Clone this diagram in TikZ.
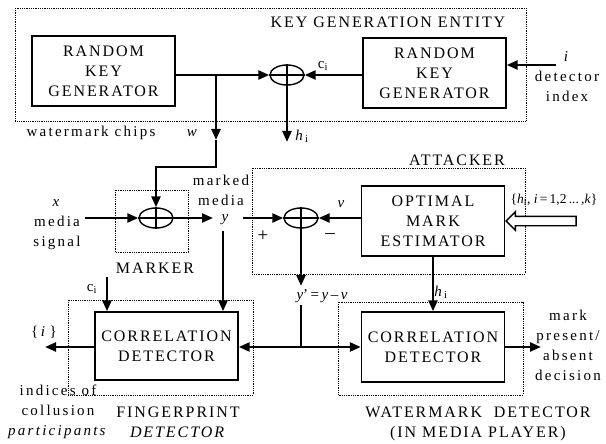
\documentclass[tikz,border=0pt]{standalone}
\usepackage{fontspec}
\setmainfont{Liberation Serif}
\newfontfamily\spacedfont[LetterSpace=12]{Liberation Serif}
\newfontfamily\labelfont[LetterSpace=15]{Liberation Serif}
\usepackage{tikz}
\usetikzlibrary{arrows.meta,positioning,shapes.geometric,shapes.arrows}
\tikzset{
  block/.style={rectangle,draw=black,line width=1.4pt,align=center,minimum width=143pt,minimum height=70pt,inner sep=0pt,font=\spacedfont\fontsize{16}{20}\selectfont},
  region/.style={draw=black,densely dotted,line width=0.8pt},
  adder/.style={ellipse,draw=black,line width=1.4pt,minimum width=34pt,minimum height=20pt,inner sep=0pt},
  edge/.style={-{Triangle[length=11pt,width=9pt]},line width=2.4pt,draw=black},
  wire/.style={line width=2.4pt,draw=black},
  txt/.style={align=center,inner sep=0pt,font=\labelfont\fontsize{15}{20}\selectfont},
  caps/.style={align=center,inner sep=0pt,font=\spacedfont\fontsize{16}{20}\selectfont},
  sign/.style={inner sep=0pt,font=\fontsize{19}{20}\selectfont},
  hollow/.style={single arrow,draw=black,line width=1.4pt,fill=white,minimum height=70pt,minimum width=17pt,inner sep=4pt,single arrow head extend=4.5pt,single arrow head indent=0pt,shape border rotate=180,anchor=tip}
}
\newcommand{\cross}[1]{\draw[line width=1.2pt] (#1.north) -- (#1.south) (#1.west) -- (#1.east);}
\newcommand{\var}[1]{\textit{#1}}
\begin{document}
\begin{tikzpicture}[x=1pt,y=-1pt]
\useasboundingbox (0,0) rectangle (606,444);
% regions
\draw[region] (15,8) rectangle (526,121);
\draw[region] (115,190) rectangle (188,252);
\draw[region] (252,168) rectangle (525,274);
\draw[region] (68,300) rectangle (253,395);
\draw[region] (338,302) rectangle (523,395);
\node[caps] (kgelbl) at (388,22) {KEY GENERATION ENTITY};
\node[caps] (mklbl) at (155,268) {MARKER};
\node[caps] (atklbl) at (457,160) {ATTACKER};
\node[caps] (fplbl) at (178,422) {FINGERPRINT\\\var{DETECTOR}};
\node[caps] (wmlbl) at (478,424) {WATERMARK\ \ DETECTOR\\(IN MEDIA PLAYER)};
% blocks
\node[block] (rkg1) at (103.5,71) {RANDOM\\KEY\\GENERATOR};
\node[block] (rkg2) at (434.5,73) {RANDOM\\KEY\\GENERATOR};
\node[block] (est) at (433,221) {OPTIMAL\\MARK\\ESTIMATOR};
\node[block,minimum height=68pt] (fpd) at (166.5,346) {CORRELATION\\DETECTOR};
\node[block] (wmd) at (433,347) {CORRELATION\\DETECTOR};
% adders
\node[adder] (add1) at (287,75) {};
\node[adder] (add2) at (156,218) {};
\node[adder] (add3) at (301,218) {};
\cross{add1}
\cross{add2}
\cross{add3}
% free ends
\coordinate (wsplit) at (216,75);
\coordinate (wtip) at (216,140);
\coordinate (wbend) at (216,167);
\coordinate (htip) at (287,142);
\coordinate (iin) at (556,65);
\coordinate (xin) at (85,218);
\coordinate (ytip) at (213,218);
\coordinate (ydown) at (223,231);
\coordinate (yout) at (243,218);
\coordinate (yptip) at (301,286);
\coordinate (ypstart) at (301,305);
\coordinate (junct) at (301,347);
\coordinate (cin) at (107,277);
\coordinate (iout) at (45,347);
\coordinate (decout) at (541,347);
% connectors
\draw[edge] (rkg1.east |- add1) -- (add1.west);
\draw[edge] (wsplit) -- (wtip);
\draw[edge] (wtip) -- (wbend) -| (add2.north);
\draw[edge] (add1.south) -- (htip);
\draw[edge] (rkg2.west |- add1) -- (add1.east);
\draw[edge] (iin) -- (iin -| rkg2.east);
\draw[edge] (xin) -- (add2.west);
\draw[edge] (add2.east) -- (ytip);
\draw[edge] (ydown) -- (ydown |- fpd.north);
\draw[edge] (yout) -- (add3.west);
\draw[edge] (est.west |- add3) -- (add3.east);
\draw[edge] (add3.south) -- (yptip);
\draw[wire] (ypstart) -- (junct);
\draw[edge] (junct) -- (junct -| fpd.east);
\draw[edge] (junct) -- (junct -| wmd.west);
\draw[edge] (cin) -- (cin |- fpd.north);
\draw[edge] (fpd.west |- iout) -- (iout);
\draw[edge] (est.south) -- (wmd.north);
\draw[edge] (wmd.east) -- (decout);
\node[hollow] (hin) at (est.east) {};
% labels
\node[txt] (chipslbl) at (91,133) {watermark chips};
\node[txt] (wlbl) at (193,133) {\var{w}};
\node[txt] (hlbl1) at (302,136) {\var{h}\textsubscript{i}};
\node[txt] (clbl1) at (323,66) {c\textsubscript{i}};
\node[txt] (ilbl) at (567,77) {\var{i}\\detector\\index};
\node[txt] (xlbl) at (57,225) {\var{x}\\media\\signal};
\node[txt] (mmlbl) at (221,190) {marked\\media};
\node[txt] (ylbl) at (226,220) {\var{y}};
\node[sign] (plus) at (263,236) {+};
\node[sign] (minus) at (330,236) {\textendash};
\node[txt] (vlbl) at (342,204) {\var{v}};
\node[inner sep=0pt,font=\fontsize{13.5}{16}\selectfont] (hset) at (554,200) {\{\var{h}\textsubscript{i}, \var{i}\,=\,1,2\,...\,,\var{k}\}};
\node[inner sep=0pt,font=\fontsize{15}{20}\selectfont] (yplbl) at (322,296) {\var{y}'\,=\,\var{y}\,\textendash\,\var{v}};
\node[txt] (clbl2) at (92,289) {c\textsubscript{i}};
\node[txt] (setlbl) at (44,332) {\{\,\var{i}\,\}};
\node[txt] (collbl) at (58,412) {indices of\\collusion\\\var{participants}};
\node[txt] (hlbl2) at (441,292) {\var{h}\textsubscript{i}};
\node[txt] (declbl) at (568,345) {mark\\present/\\absent\\decision};
\end{tikzpicture}
\end{document}
